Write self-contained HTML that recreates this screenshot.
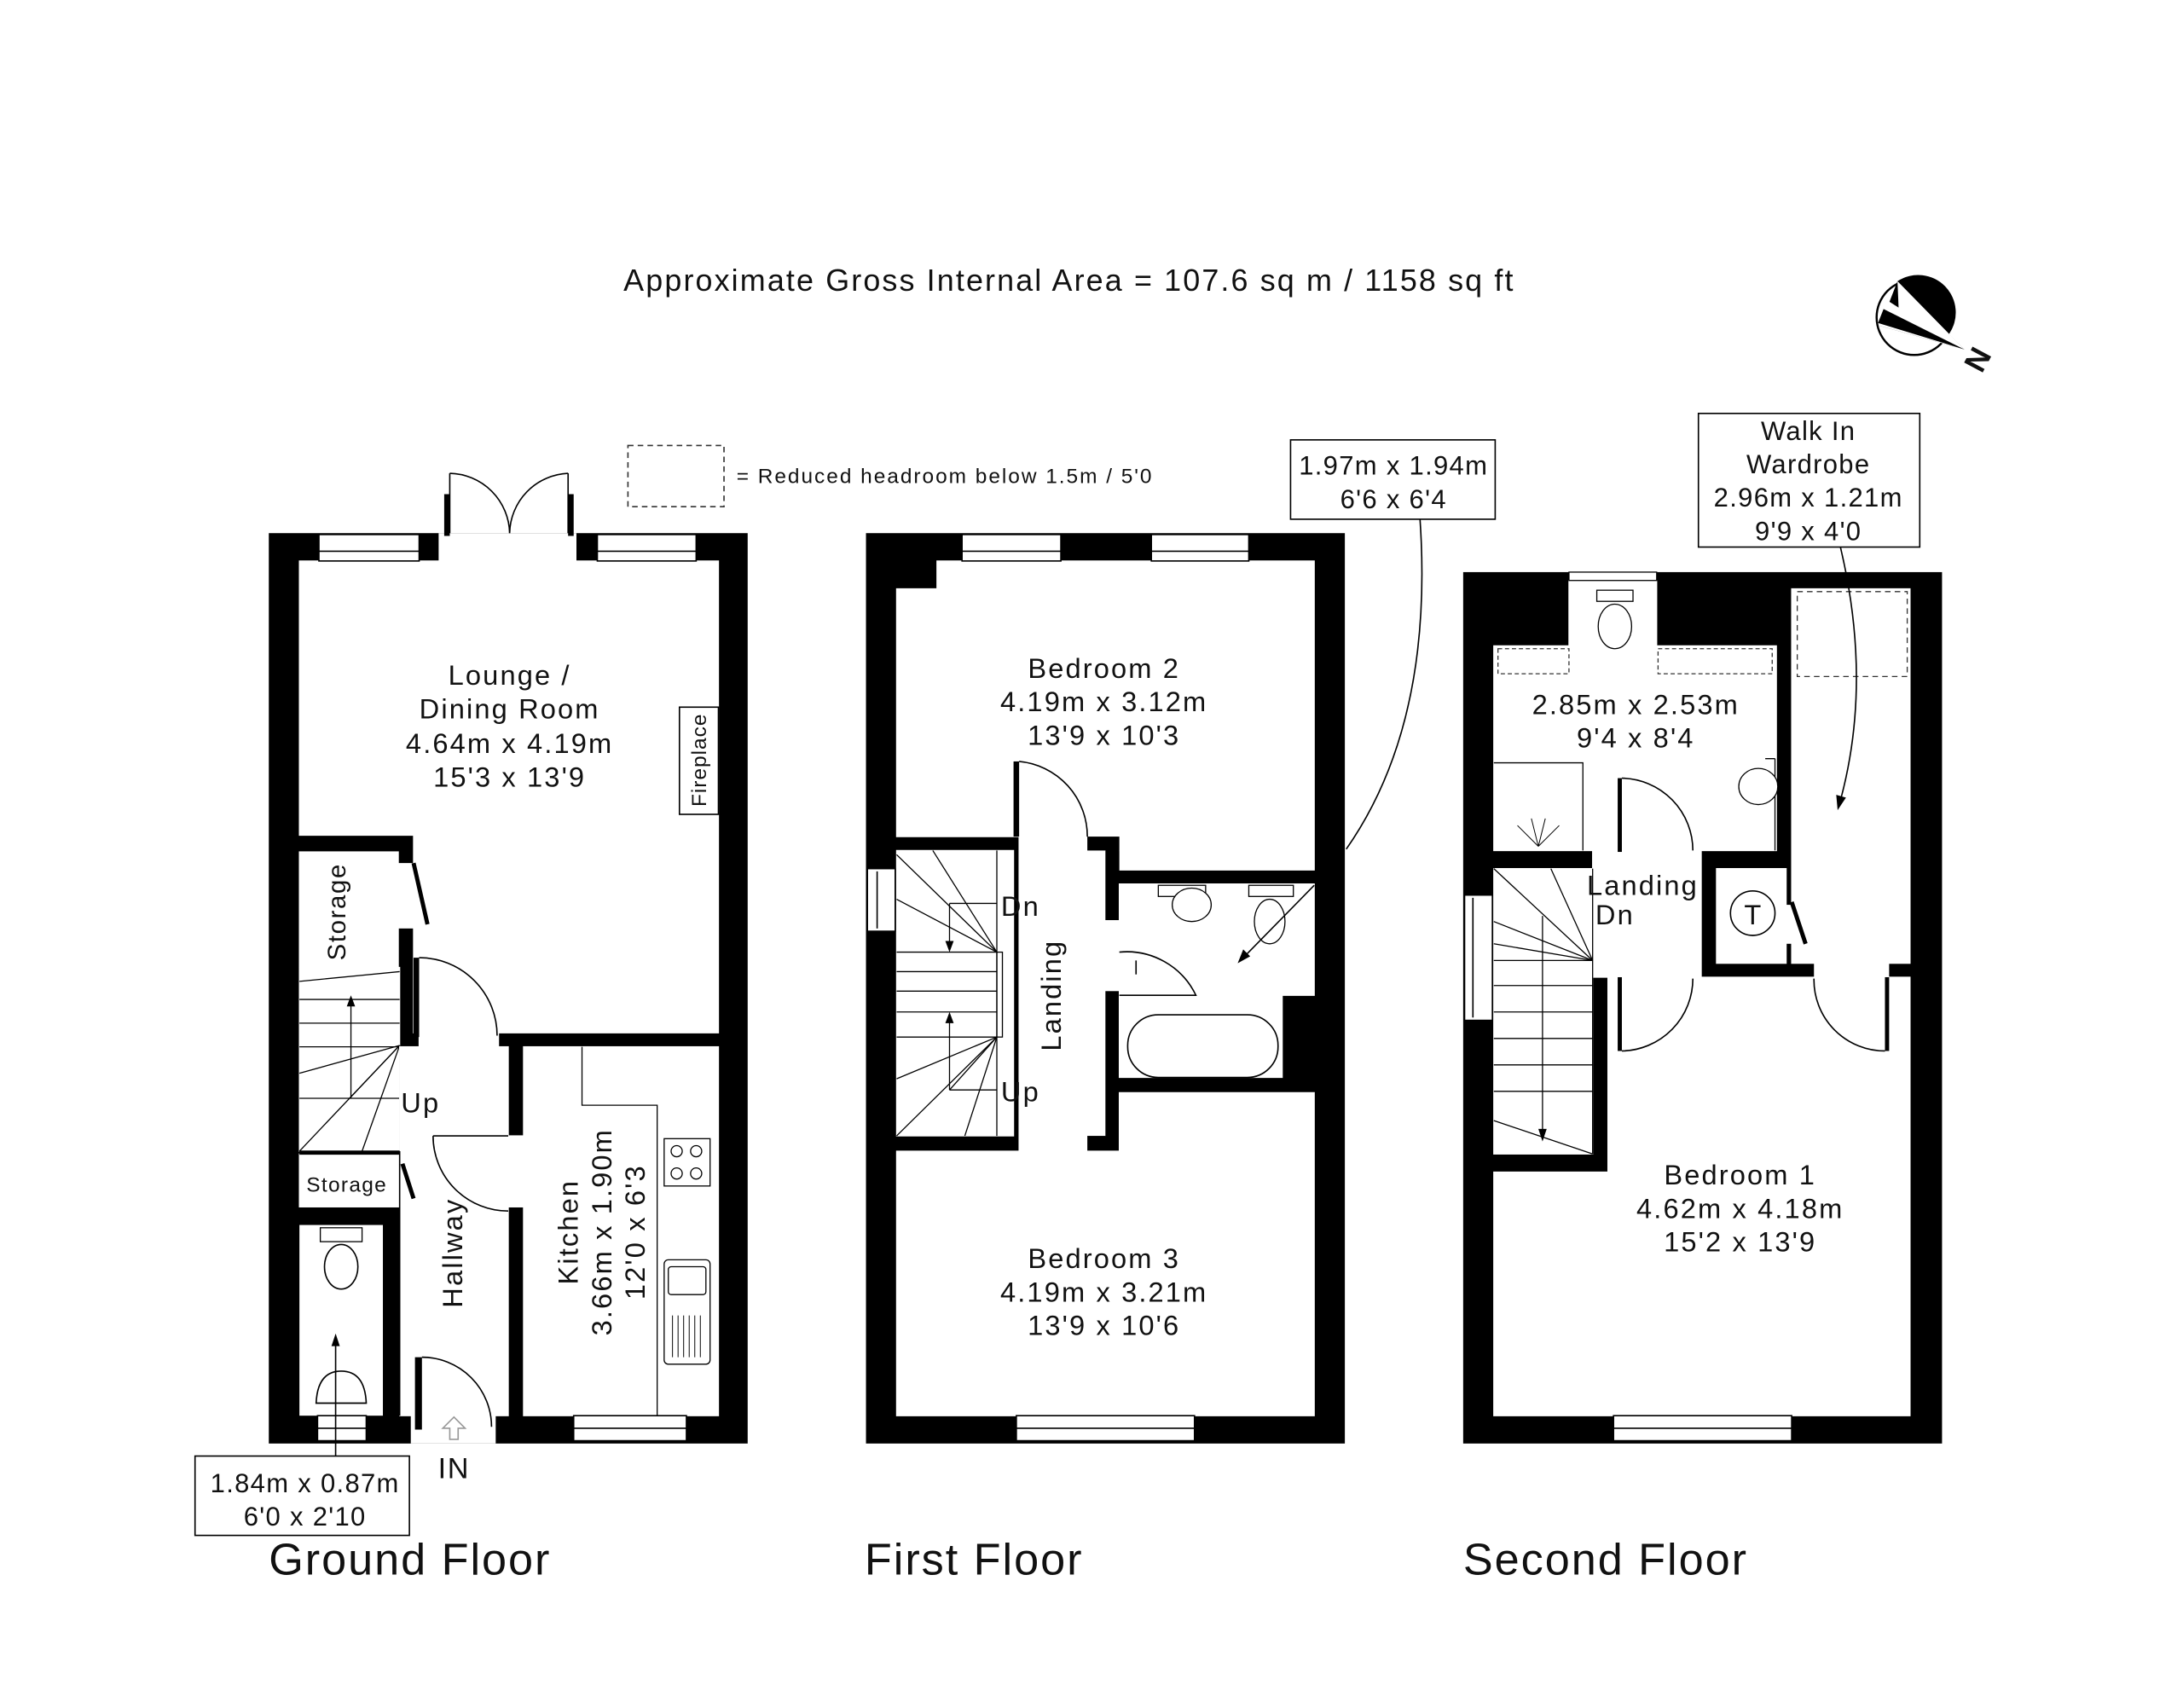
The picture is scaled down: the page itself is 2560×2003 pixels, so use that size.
<!DOCTYPE html>
<html><head><meta charset="utf-8"><style>
html,body{margin:0;padding:0;background:#fff;}
svg{display:block;}
text{font-family:"Liberation Sans",sans-serif;fill:#111;}
.l{font-size:20px;letter-spacing:1.3px;}
.w{stroke:#fff;stroke-width:0.8;}
</style></head><body>
<svg width="2560" height="2003" viewBox="0 0 1568 1227" xmlns="http://www.w3.org/2000/svg">
<rect width="1568" height="1227" fill="#fff"/>
<text x="768" y="209" font-size="22" text-anchor="middle" letter-spacing="1.3">Approximate Gross Internal Area = 107.6 sq m / 1158 sq ft</text>

<!-- compass -->
<g>
<circle cx="1375" cy="228" r="27" fill="#fff" stroke="#000" stroke-width="1.5"/>
<path d="M1363,202 A27,27 0 0 1 1400,240 L1411,251 L1350,234 L1356,220 Z" fill="#000"/>
<path d="M1363,202 L1411,251 L1364,226 Z" fill="#fff"/>
<path d="M1356,216 L1411,251 L1350,234 Z" fill="#fff"/>
<path d="M1349,232 L1411,251 L1353,222 Z" fill="#000"/>
<text x="1422" y="265" font-size="22" font-weight="bold" transform="rotate(-62 1422 259)" text-anchor="middle">N</text>
</g>

<!-- legend -->
<rect x="451" y="320" width="69" height="44" fill="none" stroke="#333" stroke-width="1" stroke-dasharray="4,3"/>
<text x="529" y="347" font-size="15" letter-spacing="1.2">= Reduced headroom below 1.5m / 5'0</text>

<!-- ================= GROUND FLOOR ================= -->
<g>
<rect x="193" y="383" width="344" height="654" fill="#000"/>
<path class="w" d="M215,403 H516 V742 H297 V600 H215 Z" fill="#fff"/>
<rect x="315" y="383" width="99" height="22" fill="#fff"/>
<rect x="319" y="355" width="4" height="30" fill="#000"/>
<rect x="408" y="355" width="4" height="30" fill="#000"/>
<path d="M323,340 A44,44 0 0 1 366,383" fill="none" stroke="#000" stroke-width="1"/>
<path d="M408,340 A44,44 0 0 0 366,383" fill="none" stroke="#000" stroke-width="1"/>
<line x1="323" y1="340" x2="323" y2="383" stroke="#000" stroke-width="1"/>
<line x1="408" y1="340" x2="408" y2="383" stroke="#000" stroke-width="1"/>
<rect x="229" y="384" width="72" height="19" fill="#fff" stroke="#000" stroke-width="1"/>
<line x1="229" y1="396" x2="301" y2="396" stroke="#000"/>
<rect x="429" y="384" width="71" height="19" fill="#fff" stroke="#000" stroke-width="1"/>
<line x1="429" y1="396" x2="500" y2="396" stroke="#000"/>
<rect class="w" x="215" y="612" width="71" height="83" fill="#fff"/>
<rect x="286" y="620" width="11" height="47" fill="#fff"/>
<line x1="297" y1="620" x2="307" y2="664" stroke="#000" stroke-width="3"/>
<rect class="w" x="215" y="695" width="72" height="132" fill="#fff"/>
<g stroke="#000" stroke-width="0.8" fill="none">
<line x1="215" y1="705" x2="287" y2="698"/>
<line x1="215" y1="718" x2="287" y2="718"/>
<line x1="215" y1="735" x2="287" y2="735"/>
<line x1="215" y1="752" x2="287" y2="752"/>
<line x1="215" y1="771" x2="287" y2="751"/>
<line x1="251" y1="789" x2="287" y2="751"/>
<line x1="215" y1="827" x2="287" y2="751"/>
<line x1="260" y1="827" x2="287" y2="751"/>
<line x1="287" y1="751" x2="287" y2="827"/>
<line x1="215" y1="789" x2="287" y2="789"/>
<line x1="252" y1="789" x2="252" y2="721"/>
</g>
<path d="M252,715 l-3,8 h6 z" fill="#000"/>
<rect class="w" x="287" y="752" width="78" height="265" fill="#fff"/>
<rect class="w" x="301" y="688" width="57" height="64" fill="#fff"/>
<rect x="297" y="688" width="4" height="57" fill="#000"/>
<path d="M301,688 A56,56 0 0 1 357,744" fill="none" stroke="#000" stroke-width="1"/>
<rect class="w" x="215" y="829" width="72" height="38" fill="#fff"/>
<line x1="215" y1="828" x2="287" y2="828" stroke="#000" stroke-width="3"/>
<line x1="289" y1="836" x2="297" y2="861" stroke="#000" stroke-width="3"/>
<rect x="215" y="880" width="60" height="137" fill="#fff"/>
<rect x="275" y="880" width="11" height="137" fill="#000"/>
<line x1="287" y1="827" x2="287" y2="1017" stroke="#000" stroke-width="1"/>
<rect x="228" y="1017" width="35" height="18" fill="#fff" stroke="#000"/>
<line x1="228" y1="1026" x2="263" y2="1026" stroke="#000"/>
<rect x="230" y="882" width="30" height="10" fill="#fff" stroke="#000" stroke-width="0.8"/>
<ellipse cx="245" cy="910" rx="12" ry="16" fill="#fff" stroke="#000" stroke-width="1"/>
<path d="M227,1008 Q228,985 245,985 Q262,985 263,1008 Z" fill="#fff" stroke="#000" stroke-width="1"/>
<rect class="w" x="376" y="752" width="140" height="265" fill="#fff"/>
<rect class="w" x="365" y="816" width="11" height="51" fill="#fff"/>
<path d="M311,816 L365,816 M311,816 A54,54 0 0 0 365,870" fill="none" stroke="#000" stroke-width="1"/>
<path d="M418,752 V794 H472 V1017" fill="none" stroke="#000" stroke-width="0.8"/>
<rect x="477" y="818" width="33" height="34" fill="#fff" stroke="#000" stroke-width="0.8"/>
<g fill="none" stroke="#000" stroke-width="0.8">
<circle cx="486" cy="827" r="4"/><circle cx="500" cy="827" r="4"/><circle cx="486" cy="843" r="4"/><circle cx="500" cy="843" r="4"/>
</g>
<rect x="477" y="905" width="33" height="75" rx="3" fill="#fff" stroke="#000" stroke-width="0.8"/>
<rect x="480" y="910" width="27" height="20" rx="2" fill="none" stroke="#000" stroke-width="0.8"/>
<g stroke="#000" stroke-width="0.6"><line x1="483" y1="945" x2="483" y2="975"/><line x1="487" y1="945" x2="487" y2="975"/><line x1="491" y1="945" x2="491" y2="975"/><line x1="495" y1="945" x2="495" y2="975"/><line x1="499" y1="945" x2="499" y2="975"/><line x1="503" y1="945" x2="503" y2="975"/></g>
<rect x="488" y="508" width="28" height="77" fill="#fff" stroke="#000" stroke-width="1"/>
<rect x="295" y="1016" width="61" height="21" fill="#fff"/>
<rect x="298" y="975" width="5" height="52" fill="#000"/>
<path d="M303,975 A50,50 0 0 1 353,1025" fill="none" stroke="#000" stroke-width="1"/>
<rect x="412" y="1017" width="81" height="18" fill="#fff" stroke="#000"/>
<line x1="412" y1="1026" x2="493" y2="1026" stroke="#000"/>
<path d="M326,1018 l-8,8 h5 v8 h6 v-8 h5 z" fill="#fff" stroke="#999" stroke-width="1"/>
<text x="366" y="492" class="l" text-anchor="middle">Lounge /</text>
<text x="366" y="516" class="l" text-anchor="middle">Dining Room</text>
<text x="366" y="541" class="l" text-anchor="middle">4.64m x 4.19m</text>
<text x="366" y="565" class="l" text-anchor="middle">15'3 x 13'9</text>
<text x="0" y="0" font-size="15" letter-spacing="0.6" text-anchor="middle" transform="translate(507,546) rotate(-90)">Fireplace</text>
<text x="0" y="0" font-size="18" letter-spacing="1" text-anchor="middle" transform="translate(248,655) rotate(-90)">Storage</text>
<text x="249" y="856" font-size="15" letter-spacing="0.8" text-anchor="middle">Storage</text>
<text x="288" y="799" class="l">Up</text>
<text x="0" y="0" class="l" text-anchor="middle" transform="translate(332,900) rotate(-90)">Hallway</text>
<text x="0" y="0" class="l" text-anchor="middle" transform="translate(415,885) rotate(-90)">Kitchen</text>
<text x="0" y="0" class="l" text-anchor="middle" transform="translate(439,885) rotate(-90)">3.66m x 1.90m</text>
<text x="0" y="0" class="l" text-anchor="middle" transform="translate(463,885) rotate(-90)">12'0 x 6'3</text>
<text x="326" y="1062" font-size="21" letter-spacing="1" text-anchor="middle">IN</text>
<line x1="241" y1="1047" x2="241" y2="964" stroke="#000" stroke-width="1"/>
<path d="M241,958 l-3,9 h6 z" fill="#000"/>
<rect x="140" y="1046" width="154" height="57" fill="#fff" stroke="#000" stroke-width="1"/>
<text x="219" y="1072" font-size="19" letter-spacing="0.8" text-anchor="middle">1.84m x 0.87m</text>
<text x="219" y="1096" font-size="19" letter-spacing="0.8" text-anchor="middle">6'0 x 2'10</text>
<text x="193" y="1131" font-size="32" letter-spacing="1.2">Ground Floor</text>
</g>

<!-- ================= FIRST FLOOR ================= -->
<g>
<rect x="622" y="383" width="344" height="654" fill="#000"/>
<path class="w" d="M673,403 H944 V625 H804 V601 H644 V423 H673 Z" fill="#fff"/>
<rect x="691" y="384" width="71" height="19" fill="#fff" stroke="#000"/><line x1="691" y1="396" x2="762" y2="396" stroke="#000"/>
<rect x="827" y="384" width="70" height="19" fill="#fff" stroke="#000"/><line x1="827" y1="396" x2="897" y2="396" stroke="#000"/>
<rect class="w" x="732" y="547" width="49" height="333" fill="#fff"/>
<rect class="w" x="781" y="611" width="13" height="205" fill="#fff"/>
<rect class="w" x="794" y="661" width="10" height="51" fill="#fff"/>
<rect x="781" y="601" width="23" height="10" fill="#000"/>
<rect x="781" y="816" width="23" height="11" fill="#000"/>
<rect x="794" y="611" width="10" height="50" fill="#000"/>
<rect x="794" y="712" width="10" height="104" fill="#000"/>
<rect x="728" y="547" width="4" height="54" fill="#000"/>
<rect x="728" y="827" width="4" height="53" fill="#000"/>
<path d="M732,547 A54,54 0 0 1 781,601" fill="none" stroke="#000"/>
<path d="M732,880 A54,54 0 0 0 781,827" fill="none" stroke="#000"/>
<rect class="w" x="644" y="611" width="84" height="205" fill="#fff"/>
<g stroke="#000" stroke-width="0.8" fill="none">
<line x1="716" y1="611" x2="716" y2="816"/>
<line x1="644" y1="614" x2="716" y2="684"/>
<line x1="670" y1="611" x2="716" y2="684"/>
<line x1="644" y1="646" x2="716" y2="684"/>
<line x1="682" y1="649" x2="716" y2="649"/>
<line x1="644" y1="684" x2="716" y2="684"/>
<line x1="644" y1="698" x2="716" y2="698"/>
<line x1="644" y1="712" x2="716" y2="712"/>
<line x1="644" y1="727" x2="716" y2="727"/>
<line x1="644" y1="745" x2="716" y2="745"/>
<line x1="644" y1="775" x2="716" y2="745"/>
<line x1="682" y1="783" x2="716" y2="745"/>
<line x1="682" y1="783" x2="716" y2="783"/>
<line x1="682" y1="783" x2="682" y2="730"/>
<line x1="644" y1="816" x2="716" y2="745"/>
<line x1="693" y1="816" x2="716" y2="745"/>
<line x1="682" y1="649" x2="682" y2="676"/>
<rect x="716" y="684" width="4" height="61"/>
</g>
<path d="M682,684 l-3,-8 h6 z M682,727 l-3,8 h6 z" fill="#000"/>
<rect x="623" y="624" width="20" height="45" fill="#fff" stroke="#000"/>
<line x1="630" y1="626" x2="630" y2="667" stroke="#000"/>
<path class="w" d="M804,635 H944 V715 H921 V774 H804 Z" fill="#fff"/>
<path d="M804,684 A55,55 0 0 1 859,715 L804,715" fill="none" stroke="#000"/>
<line x1="816" y1="690" x2="816" y2="700" stroke="#000"/>
<rect x="810" y="729" width="108" height="45" rx="22" fill="#fff" stroke="#000"/>
<rect x="832" y="636" width="34" height="8" fill="#fff" stroke="#000" stroke-width="0.8"/>
<ellipse cx="856" cy="650" rx="14" ry="12" fill="#fff" stroke="#000" stroke-width="0.8"/>
<rect x="897" y="636" width="32" height="8" fill="#fff" stroke="#000" stroke-width="0.8"/>
<ellipse cx="912" cy="662" rx="11" ry="16" fill="#fff" stroke="#000" stroke-width="0.8"/>
<path class="w" d="M644,827 H804 V785 H944 V1017 H644 Z" fill="#fff"/>
<rect x="730" y="1017" width="128" height="18" fill="#fff" stroke="#000"/><line x1="730" y1="1026" x2="858" y2="1026" stroke="#000"/>
<text x="793" y="487" class="l" text-anchor="middle">Bedroom 2</text>
<text x="793" y="511" class="l" text-anchor="middle">4.19m x 3.12m</text>
<text x="793" y="535" class="l" text-anchor="middle">13'9 x 10'3</text>
<text x="793" y="911" class="l" text-anchor="middle">Bedroom 3</text>
<text x="793" y="935" class="l" text-anchor="middle">4.19m x 3.21m</text>
<text x="793" y="959" class="l" text-anchor="middle">13'9 x 10'6</text>
<text x="0" y="0" class="l" text-anchor="middle" transform="translate(762,715) rotate(-90)">Landing</text>
<text x="719" y="658" class="l">Dn</text>
<text x="719" y="791" class="l">Up</text>
<rect x="927" y="316" width="147" height="57" fill="#fff" stroke="#000"/>
<text x="1001" y="341" font-size="19" letter-spacing="0.8" text-anchor="middle">1.97m x 1.94m</text>
<text x="1001" y="365" font-size="19" letter-spacing="0.8" text-anchor="middle">6'6 x 6'4</text>
<path d="M1020,373 Q1030,520 967,610" fill="none" stroke="#000" stroke-width="1"/>
<line x1="944" y1="636" x2="895" y2="686" stroke="#000"/>
<path d="M889,692 l4,-10 l5,5 z" fill="#000"/>
<text x="621" y="1131" font-size="32" letter-spacing="1.2">First Floor</text>
</g>

<!-- ================= SECOND FLOOR ================= -->
<g>
<rect x="1051" y="411" width="344" height="626" fill="#000"/>
<path class="w" d="M1127,417 H1190 V464 H1276 V611 H1073 V464 H1127 Z" fill="#fff"/>
<rect x="1127" y="411" width="63" height="6" fill="#fff" stroke="#000" stroke-width="0.8"/>
<rect x="1076" y="466" width="51" height="18" fill="none" stroke="#333" stroke-dasharray="3,2" stroke-width="0.8"/>
<rect x="1191" y="466" width="82" height="18" fill="none" stroke="#333" stroke-dasharray="3,2" stroke-width="0.8"/>
<rect x="1147" y="424" width="26" height="8" fill="#fff" stroke="#000" stroke-width="0.8"/>
<ellipse cx="1160" cy="450" rx="12" ry="16" fill="#fff" stroke="#000" stroke-width="0.8"/>
<path d="M1073,548 H1137 V611" fill="none" stroke="#000" stroke-width="0.8"/>
<g stroke="#000" stroke-width="0.6"><line x1="1105" y1="608" x2="1090" y2="593"/><line x1="1105" y1="608" x2="1120" y2="593"/><line x1="1105" y1="608" x2="1100" y2="588"/><line x1="1105" y1="608" x2="1110" y2="588"/></g>
<path d="M1275,545 V611 M1275,545 H1268" fill="none" stroke="#000" stroke-width="0.8"/>
<ellipse cx="1263" cy="565" rx="14" ry="13" fill="#fff" stroke="#000" stroke-width="0.8"/>
<rect class="w" x="1287" y="423" width="85" height="269" fill="#fff"/>
<rect x="1291" y="425" width="79" height="61" fill="none" stroke="#333" stroke-dasharray="4,3" stroke-width="0.8"/>
<rect class="w" x="1144" y="610" width="78" height="92" fill="#fff"/>
<rect x="1162" y="559" width="3" height="53" fill="#000"/>
<path d="M1165,559 A52,52 0 0 1 1216,611" fill="none" stroke="#000"/>
<rect class="w" x="1233" y="624" width="50" height="68" fill="#fff"/>
<circle cx="1259" cy="656" r="16" fill="none" stroke="#000" stroke-width="1"/>
<text x="1259" y="664" font-size="20" text-anchor="middle">T</text>
<rect x="1283" y="650" width="4" height="28" fill="#fff"/>
<line x1="1287" y1="648" x2="1297" y2="678" stroke="#000" stroke-width="3"/>
<rect class="w" x="1073" y="624" width="71" height="205" fill="#fff"/>
<g stroke="#000" stroke-width="0.8" fill="none">
<line x1="1144" y1="624" x2="1144" y2="829"/>
<line x1="1073" y1="624" x2="1144" y2="690"/>
<line x1="1114" y1="624" x2="1144" y2="690"/>
<line x1="1073" y1="662" x2="1144" y2="690"/>
<line x1="1073" y1="678" x2="1144" y2="690"/>
<line x1="1073" y1="690" x2="1144" y2="690"/>
<line x1="1073" y1="708" x2="1144" y2="708"/>
<line x1="1073" y1="727" x2="1144" y2="727"/>
<line x1="1073" y1="746" x2="1144" y2="746"/>
<line x1="1073" y1="765" x2="1144" y2="765"/>
<line x1="1073" y1="784" x2="1144" y2="784"/>
<line x1="1073" y1="805" x2="1144" y2="829"/>
<line x1="1108" y1="658" x2="1108" y2="812"/>
</g>
<path d="M1108,820 l-3,-9 h6 z" fill="#000"/>
<rect x="1052" y="643" width="20" height="90" fill="#fff" stroke="#000"/>
<line x1="1058" y1="645" x2="1058" y2="731" stroke="#000"/>
<path class="w" d="M1155,702 H1372 V1017 H1073 V842 H1155 Z" fill="#fff"/>
<rect x="1303" y="691" width="54" height="12" fill="#fff"/>
<rect x="1162" y="702" width="3" height="53" fill="#000"/>
<path d="M1165,755 A52,52 0 0 0 1216,703" fill="none" stroke="#000"/>
<rect x="1354" y="702" width="3" height="53" fill="#000"/>
<path d="M1354,755 A51,51 0 0 1 1303,703" fill="none" stroke="#000"/>
<rect x="1159" y="1017" width="128" height="18" fill="#fff" stroke="#000"/><line x1="1159" y1="1026" x2="1287" y2="1026" stroke="#000"/>
<text x="1175" y="513" class="l" text-anchor="middle">2.85m x 2.53m</text>
<text x="1175" y="537" class="l" text-anchor="middle">9'4 x 8'4</text>
<text x="1180" y="643" class="l" text-anchor="middle">Landing</text>
<text x="1146" y="664" class="l">Dn</text>
<text x="1250" y="851" class="l" text-anchor="middle">Bedroom 1</text>
<text x="1250" y="875" class="l" text-anchor="middle">4.62m x 4.18m</text>
<text x="1250" y="899" class="l" text-anchor="middle">15'2 x 13'9</text>
<rect x="1220" y="297" width="159" height="96" fill="#fff" stroke="#000"/>
<text x="1299" y="316" font-size="19" letter-spacing="0.8" text-anchor="middle">Walk In</text>
<text x="1299" y="340" font-size="19" letter-spacing="0.8" text-anchor="middle">Wardrobe</text>
<text x="1299" y="364" font-size="19" letter-spacing="0.8" text-anchor="middle">2.96m x 1.21m</text>
<text x="1299" y="388" font-size="19" letter-spacing="0.8" text-anchor="middle">9'9 x 4'0</text>
<path d="M1322,393 Q1345,490 1322,575" fill="none" stroke="#000"/>
<path d="M1320,582 l-1,-11 l7,2 z" fill="#000"/>
<text x="1051" y="1131" font-size="32" letter-spacing="1.2">Second Floor</text>
</g>
</svg>
</body></html>
